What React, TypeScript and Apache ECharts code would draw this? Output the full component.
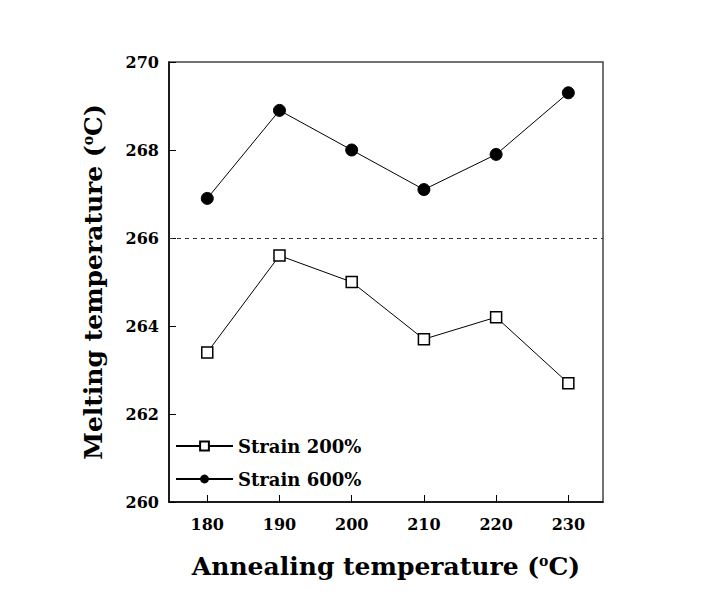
import React, { useEffect, useRef } from "react";
import * as echarts from "echarts";

const xTicks = [180, 190, 200, 210, 220, 230];
const strain200 = [263.4, 265.6, 265.0, 263.7, 264.2, 262.7];
const strain600 = [266.9, 268.9, 268.0, 267.1, 267.9, 269.3];
const refLine = 266;
const seriesNames = ["Strain 200%", "Strain 600%"];

const FONT = "'DejaVu Serif', 'Liberation Serif', serif";

export default function App() {
  const ref = useRef<HTMLDivElement>(null);
  useEffect(() => {
    if (!ref.current) return;
    const chart = echarts.init(ref.current, undefined, { renderer: "svg" });
    const titleRich = {
      t: { fontFamily: FONT, fontWeight: "bold", fontSize: 25, color: "#000" },
      s: { fontFamily: FONT, fontWeight: "bold", fontSize: 14, color: "#000", verticalAlign: "top", padding: [0, 0, 11, 0] },
    };
    chart.setOption({
      animation: false,
      backgroundColor: "#fff",
      grid: {
        left: 169,
        top: 62,
        right: 117,
        bottom: 109,
        show: true,
        borderColor: "#444",
        borderWidth: 1.5,
        containLabel: false,
      },
      legend: {
        orient: "vertical",
        left: 175,
        top: 437,
        padding: 0,
        itemWidth: 57,
        itemHeight: 11,
        itemGap: 15,
        textStyle: { fontFamily: FONT, fontWeight: "bold", fontSize: 18, color: "#000" },
        data: seriesNames,
      },
      xAxis: {
        type: "value",
        min: 174.7,
        max: 234.8,
        name: "{t|Annealing temperature (}{s|o}{t|C)}",
        nameLocation: "middle",
        nameGap: 52,
        nameTextStyle: { rich: titleRich },
        axisLine: { show: true, lineStyle: { color: "#000", width: 1.5 } },
        axisTick: { show: true, inside: true, length: 7, customValues: xTicks, lineStyle: { color: "#000" } },
        axisLabel: {
          customValues: xTicks,
          margin: 14,
          fontFamily: FONT,
          fontWeight: "bold",
          fontSize: 16,
          color: "#000",
        },
        splitLine: { show: false },
      },
      yAxis: {
        type: "value",
        min: 260,
        max: 270,
        interval: 2,
        name: "{t|Melting temperature (}{s|o}{t|C)}",
        nameLocation: "middle",
        nameGap: 63,
        nameTextStyle: { rich: titleRich },
        axisLine: { show: true, lineStyle: { color: "#000", width: 1.5 } },
        axisTick: { show: true, inside: true, length: 7, lineStyle: { color: "#000" } },
        axisLabel: {
          margin: 10,
          fontFamily: FONT,
          fontWeight: "bold",
          fontSize: 16,
          color: "#000",
        },
        splitLine: { show: false },
      },
      series: [
        {
          name: seriesNames[0],
          type: "line",
          data: xTicks.map((x, i) => [x, strain200[i]]),
          symbol: "rect",
          symbolSize: 11,
          itemStyle: { color: "#fff", borderColor: "#000", borderWidth: 1.5 },
          lineStyle: { color: "#000", width: 1 },
          markLine: {
            silent: true,
            symbol: "none",
            label: { show: false },
            lineStyle: { color: "#333", type: [4, 4], width: 1.2 },
            data: [{ yAxis: refLine }],
          },
        },
        {
          name: seriesNames[1],
          type: "line",
          data: xTicks.map((x, i) => [x, strain600[i]]),
          symbol: "circle",
          symbolSize: 12,
          itemStyle: { color: "#000", borderColor: "#000" },
          lineStyle: { color: "#000", width: 1 },
        },
      ],
    });
    return () => chart.dispose();
  }, []);
  return <div ref={ref} style={{ width: 720, height: 611, margin: -8 }} />;
}
